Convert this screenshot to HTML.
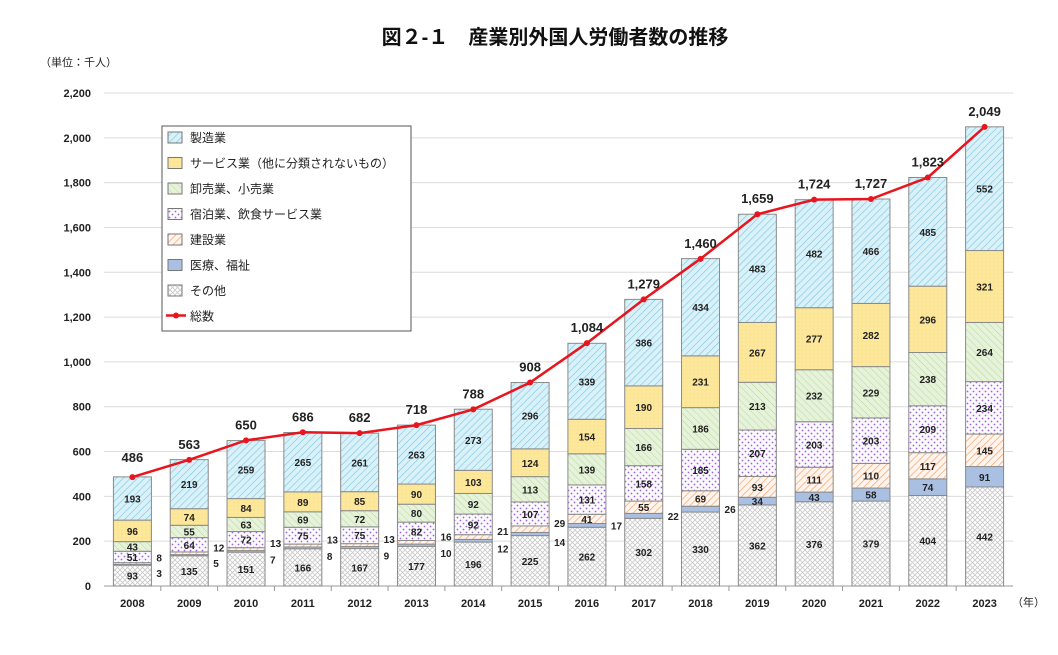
<!DOCTYPE html>
<html><head><meta charset="utf-8"><style>
body{margin:0;background:#fff;font-family:"Liberation Sans","Noto Sans CJK JP",sans-serif;}
</style></head><body>
<svg id="chart" width="1058" height="650" xmlns="http://www.w3.org/2000/svg" font-family="'Liberation Sans','Noto Sans CJK JP',sans-serif">
<defs>
<pattern id="pMan" width="5" height="5" patternUnits="userSpaceOnUse" patternTransform="rotate(45)"><rect width="5" height="5" fill="#d9f1f9"/><line x1="0" y1="0" x2="0" y2="5" stroke="#7cc5e0" stroke-width="1.2"/></pattern>
<pattern id="pSvc" width="4" height="4" patternUnits="userSpaceOnUse"><rect width="4" height="4" fill="#fce79a"/><circle cx="2" cy="2" r="0.4" fill="#e8c860"/></pattern>
<pattern id="pRet" width="5" height="5" patternUnits="userSpaceOnUse" patternTransform="rotate(-45)"><rect width="5" height="5" fill="#e6f3da"/><line x1="0" y1="0" x2="0" y2="5" stroke="#b5d99a" stroke-width="1"/></pattern>
<pattern id="pAcc" width="6" height="6" patternUnits="userSpaceOnUse"><rect width="6" height="6" fill="#fbf8ff"/><circle cx="1.5" cy="1.5" r="0.9" fill="#9a6ad0"/><circle cx="4.5" cy="4.5" r="0.9" fill="#9a6ad0"/></pattern>
<pattern id="pCon" width="5" height="5" patternUnits="userSpaceOnUse" patternTransform="rotate(45)"><rect width="5" height="5" fill="#fff5ee"/><line x1="0" y1="0" x2="0" y2="5" stroke="#f4a870" stroke-width="1.5"/></pattern>
<pattern id="pMed" width="4" height="4" patternUnits="userSpaceOnUse"><rect width="4" height="4" fill="#a9c0e2"/></pattern>
<pattern id="pOth" width="5" height="5" patternUnits="userSpaceOnUse"><rect width="5" height="5" fill="#fff"/><path d="M0 0L5 5M5 0L0 5" stroke="#c8c8c8" stroke-width="0.8"/></pattern>
</defs>
<text x="555" y="44" text-anchor="middle" font-size="20" font-weight="bold" fill="#111">図２-１　産業別外国人労働者数の推移</text>
<text x="40" y="66" font-size="11" fill="#222">（単位：千人）</text>
<text x="1012" y="606" font-size="11" fill="#222">（年）</text>
<g id="grid"></g><g id="bars"></g><g id="line"></g><g id="labels"></g>
<g>
<rect x="162" y="126" width="249" height="205" fill="#fff" stroke="#555" stroke-width="1"/>
<g id="legend"></g>
</g>
</svg>
<script>
const years=["2008","2009","2010","2011","2012","2013","2014","2015","2016","2017","2018","2019","2020","2021","2022","2023"];
const other=[93,135,151,166,167,177,196,225,262,302,330,362,376,379,404,442];
const medical=[3,5,7,8,9,10,12,14,17,22,26,34,43,58,74,91];
const construction=[8,12,13,13,13,16,21,29,41,55,69,93,111,110,117,145];
const accommodation=[51,64,72,75,75,82,92,107,131,158,185,207,203,203,209,234];
const retail=[43,55,63,69,72,80,92,113,139,166,186,213,232,229,238,264];
const service=[96,74,84,89,85,90,103,124,154,190,231,267,277,282,296,321];
const manufacturing=[193,219,259,265,261,263,273,296,339,386,434,483,482,466,485,552];
const totals=[486,563,650,686,682,718,788,908,1084,1279,1460,1659,1724,1727,1823,2049];
const yTicks=[0,200,400,600,800,1000,1200,1400,1600,1800,2000,2200];
const NS="http://www.w3.org/2000/svg";
const y0=586,yTop=93,yMax=2200,x0=104,x1=1013;
const Y=v=>y0-v/yMax*(y0-yTop);
const step=(x1-x0)/years.length;
const X=i=>x0+step*(i+0.5);
const bw=38;
function mk(tag,attrs,parent,txt){const e=document.createElementNS(NS,tag);for(const k in attrs)e.setAttribute(k,attrs[k]);if(txt!==undefined)e.textContent=txt;parent.appendChild(e);return e;}
const grid=document.getElementById('grid');
yTicks.forEach(t=>{
 const l=mk('line',{x1:x0,x2:x1,y1:Y(t),y2:Y(t),stroke:t===0?'#999':'#dcdcdc','stroke-width':1},grid);
 
 
 const tx=mk('text',{x:91,y:Y(t)+4,'text-anchor':'end','font-size':11,'font-weight':'bold',fill:'#222'},grid,t.toLocaleString('en-US'));
 
 
});
years.forEach((yr,i)=>{
 const tx=mk('text',{x:X(i),y:607,'text-anchor':'middle','font-size':11,'font-weight':'bold',fill:'#222'},grid,yr);
 
 
 if(i>0){const tk=mk('line',{x1:x0+step*i,x2:x0+step*i,y1:y0,y2:y0+5,stroke:'#999'},grid);
 
 }
});
const series=[["other",other,"pOth","その他"],["medical",medical,"pMed","医療、福祉"],["construction",construction,"pCon","建設業"],["accommodation",accommodation,"pAcc","宿泊業、飲食サービス業"],["retail",retail,"pRet","卸売業、小売業"],["service",service,"pSvc","サービス業（他に分類されないもの）"],["manufacturing",manufacturing,"pMan","製造業"]];
const bars=document.getElementById('bars'),labels=document.getElementById('labels');
years.forEach((yr,i)=>{
 let cum=0;
 series.forEach(([nm,arr,pat])=>{
  const v=arr[i];const yt=Y(cum+v),yb=Y(cum);
  const r=mk('rect',{x:X(i)-bw/2,y:yt,width:bw,height:yb-yt,fill:'url(#'+pat+')',stroke:'#8a8a8a','stroke-width':1},bars);
  
  
  let lx=X(i),ly=(yt+yb)/2+4,anchor='middle';
  if(v<30){
   lx=X(i)+bw/2+5;anchor='start';
   if(construction[i]<30){ly=nm==='construction'?Y(cum+v/2)-2:Y(cum+v/2)+12;}
  }
  const t=mk('text',{x:lx,y:ly,'text-anchor':anchor,'font-size':10,'font-weight':'bold',fill:'#222'},labels,v);
  
  
  cum+=v;
 });
});
const lineG=document.getElementById('line');
const pl=mk('polyline',{points:totals.map((v,i)=>X(i)+','+Y(v)).join(' '),fill:'none',stroke:'#e8141e','stroke-width':2.5},lineG);


totals.forEach((v,i)=>{
 const c=mk('circle',{cx:X(i),cy:Y(v),r:3,fill:'#e8141e'},lineG);
 
 
 const t=mk('text',{x:X(i),y:Y(v)-(i===0?15:11),'text-anchor':'middle','font-size':13,'font-weight':'bold',fill:'#222'},labels,v.toLocaleString('en-US'));
 
 
});
const lg=document.getElementById('legend');
const order=[6,5,4,3,2,1,0];
order.forEach((si,k)=>{
 const yy=138+k*25.5;
 const r=mk('rect',{x:168,y:yy-6,width:14,height:11,fill:'url(#'+series[si][2]+')',stroke:'#777'},lg);
 
 
 const t=mk('text',{x:190,y:yy+4,'font-size':12,fill:'#222'},lg,series[si][3]);
 
 
});
const ly2=138+7*25.5;
const ll=mk('line',{x1:166,x2:186,y1:ly2-1,y2:ly2-1,stroke:'#e8141e','stroke-width':2.5},lg);


const lc=mk('circle',{cx:176,cy:ly2-1,r:3,fill:'#e8141e'},lg);


const lt=mk('text',{x:190,y:ly2+4,'font-size':12,fill:'#222'},lg,'総数');


</script>
</body></html>
